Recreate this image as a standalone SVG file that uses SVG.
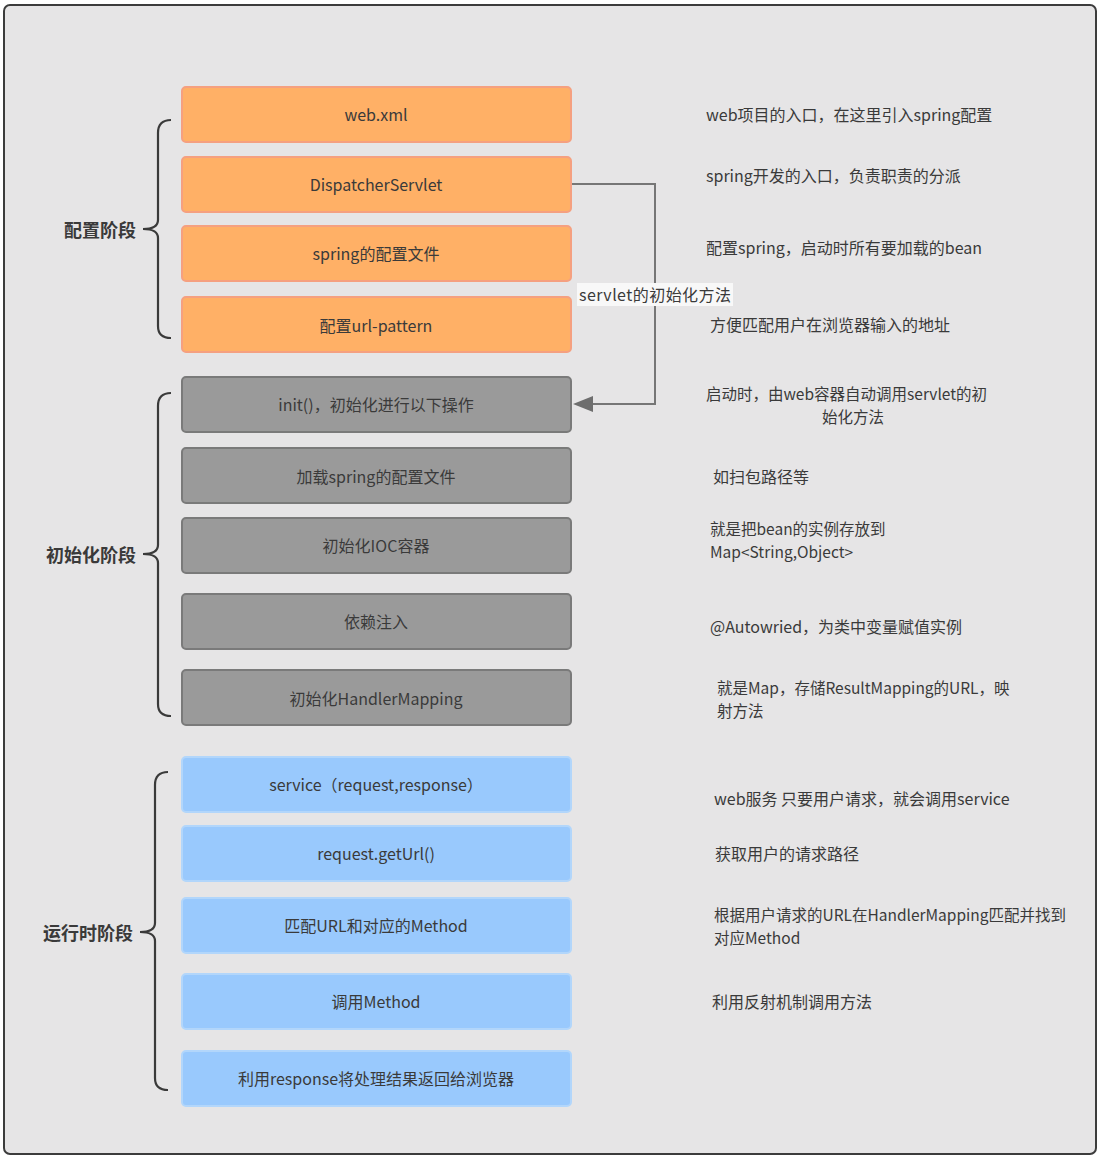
<svg xmlns="http://www.w3.org/2000/svg" width="1100" height="1159" viewBox="0 0 1100 1159">
<style>
.o{fill:#ffb066;stroke:#f5a080;stroke-width:2}
.g{fill:#9a9a9a;stroke:#7a7a7a;stroke-width:2}
.b{fill:#99c9fd;stroke:#b2d6fb;stroke-width:2}
.t{font-family:"Noto Sans CJK SC","Noto Sans",sans-serif;font-size:16px;fill:#3a3a3a;text-anchor:middle;dominant-baseline:central}
.d{font-family:"Noto Sans CJK SC","Noto Sans",sans-serif;font-size:16px;fill:#3a3a3a;dominant-baseline:central}
.m{font-size:15.5px}
.h{font-family:"Noto Sans CJK SC",sans-serif;font-size:18px;font-weight:bold;fill:#3a3a3a;text-anchor:end;dominant-baseline:central}
.br{fill:none;stroke:#3a3a3a;stroke-width:2.2}
</style>
<rect x="0" y="0" width="1100" height="1159" fill="#ffffff"/>
<rect x="4" y="5" width="1092" height="1149" rx="6" fill="#e6e5e6" stroke="#3c3c3c" stroke-width="2"/>

<g id="connectors">
<polyline points="572,184 655,184 655,404 590,404" fill="none" stroke="#767676" stroke-width="2"/>
<path d="M573,404 L593,396 L593,412 Z" fill="#6e6e6e"/>
<rect x="577" y="283" width="156" height="23" fill="#f8f8f8"/>
<text class="d" x="579" y="294" textLength="152">servlet的初始化方法</text>
</g>

<g id="phase-config">
<path class="br" d="M171,120 Q158,120 158,133 L158,220 Q158,229 143,229 Q158,229 158,238 L158,326 Q158,338 171,338"/>
<text class="h" x="136" y="229">配置阶段</text>
</g>
<g id="phase-init">
<path class="br" d="M171,393 Q158,393 158,406 L158,545 Q158,554 143,554 Q158,554 158,563 L158,704 Q158,716 171,716"/>
<text class="h" x="136" y="554">初始化阶段</text>
</g>
<g id="phase-run">
<path class="br" d="M168,772 Q155,772 155,785 L155,923 Q155,932 140,932 Q155,932 155,941 L155,1078 Q155,1090 168,1090"/>
<text class="h" x="133" y="932">运行时阶段</text>
</g>

<g id="n1"><rect class="o" x="182" y="87" width="389" height="55" rx="4"/><text class="t" x="376" y="114">web.xml</text></g>
<g id="n2"><rect class="o" x="182" y="157" width="389" height="55" rx="4"/><text class="t" x="376" y="184">DispatcherServlet</text></g>
<g id="n3"><rect class="o" x="182" y="226" width="389" height="55" rx="4"/><text class="t" x="376" y="253">spring的配置文件</text></g>
<g id="n4"><rect class="o" x="182" y="297" width="389" height="55" rx="4"/><text class="t" x="376" y="325">配置url-pattern</text></g>

<g id="n5"><rect class="g" x="182" y="377" width="389" height="55" rx="4"/><text class="t" x="376" y="404">init()，初始化进行以下操作</text></g>
<g id="n6"><rect class="g" x="182" y="448" width="389" height="55" rx="4"/><text class="t" x="376" y="476">加载spring的配置文件</text></g>
<g id="n7"><rect class="g" x="182" y="518" width="389" height="55" rx="4"/><text class="t" x="376" y="545">初始化IOC容器</text></g>
<g id="n8"><rect class="g" x="182" y="594" width="389" height="55" rx="4"/><text class="t" x="376" y="621">依赖注入</text></g>
<g id="n9"><rect class="g" x="182" y="670" width="389" height="55" rx="4"/><text class="t" x="376" y="698">初始化HandlerMapping</text></g>

<g id="n10"><rect class="b" x="182" y="757" width="389" height="55" rx="4"/><text class="t" x="376" y="784">service（request,response）</text></g>
<g id="n11"><rect class="b" x="182" y="826" width="389" height="55" rx="4"/><text class="t" x="376" y="853">request.getUrl()</text></g>
<g id="n12"><rect class="b" x="182" y="898" width="389" height="55" rx="4"/><text class="t" x="376" y="925">匹配URL和对应的Method</text></g>
<g id="n13"><rect class="b" x="182" y="974" width="389" height="55" rx="4"/><text class="t" x="376" y="1001">调用Method</text></g>
<g id="n14"><rect class="b" x="182" y="1051" width="389" height="55" rx="4"/><text class="t" x="376" y="1078">利用response将处理结果返回给浏览器</text></g>

<g id="descriptions">
<text class="d" x="706" y="114">web项目的入口，在这里引入spring配置</text>
<text class="d" x="706" y="175">spring开发的入口，负责职责的分派</text>
<text class="d" x="706" y="247">配置spring，启动时所有要加载的bean</text>
<text class="d" x="710" y="324">方便匹配用户在浏览器输入的地址</text>
<text class="d m" x="706" y="393">启动时，由web容器自动调用servlet的初</text>
<text class="d m" x="822" y="416">始化方法</text>
<text class="d" x="713" y="476">如扫包路径等</text>
<text class="d m" x="710" y="528">就是把bean的实例存放到</text>
<text class="d m" x="710" y="551">Map&lt;String,Object&gt;</text>
<text class="d" x="710" y="626">@Autowried，为类中变量赋值实例</text>
<text class="d m" x="717" y="687">就是Map，存储ResultMapping的URL，映</text>
<text class="d m" x="717" y="710">射方法</text>
<text class="d" x="714" y="798">web服务 只要用户请求，就会调用service</text>
<text class="d" x="715" y="853">获取用户的请求路径</text>
<text class="d m" x="714" y="914">根据用户请求的URL在HandlerMapping匹配并找到</text>
<text class="d m" x="714" y="937">对应Method</text>
<text class="d" x="712" y="1001">利用反射机制调用方法</text>
</g>
</svg>
